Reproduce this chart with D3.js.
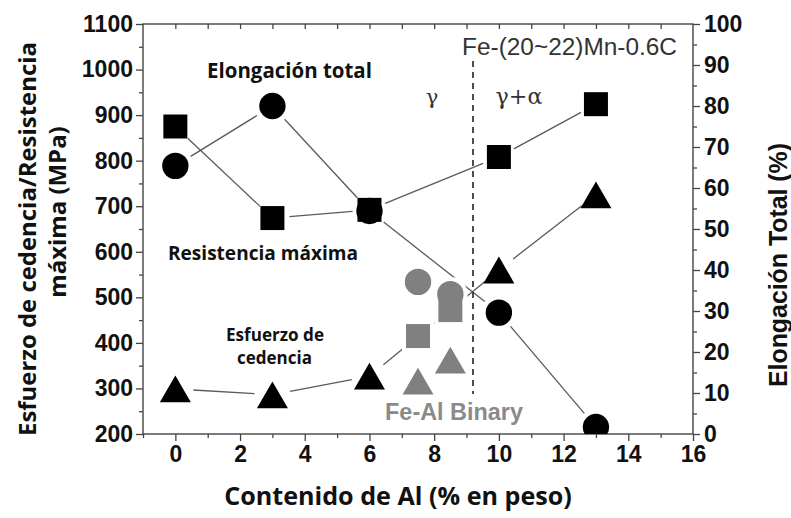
<!DOCTYPE html>
<html>
<head>
<meta charset="utf-8">
<script src="https://cdn.jsdelivr.net/npm/d3@7"></script>
<style>
  html, body { margin: 0; padding: 0; background: #fff; }
  svg { display: block; }
</style>
</head>
<body>
<svg id="chart" width="791" height="518"></svg>
<script>
// Fe-(20~22)Mn-0.6C steels: tensile properties vs. Al content
const alContent = [0, 3, 6, 10, 13];                 // wt.% Al
const tensileStrength = [875, 674, 692, 808, 924];   // MPa (squares)
const yieldStrength = [299, 286, 327, 560, 725];     // MPa (triangles)
const totalElongation = [65.4, 80.0, 54.4, 29.6, 1.7]; // % (circles)

// Fe-Al binary reference points
const binaryAl = [7.5, 8.5];
const binaryTensile = [415, 472];
const binaryYield = [316, 362];
const binaryElongation = [37.1, 34.1];

const xTicks = [0, 2, 4, 6, 8, 10, 12, 14, 16];
const leftTicks = [200, 300, 400, 500, 600, 700, 800, 900, 1000, 1100];
const rightTicks = [0, 10, 20, 30, 40, 50, 60, 70, 80, 90, 100];
const phaseBoundary = 9.2;

const svg = d3.select("#chart");
const L = 143, R = 693, T = 24, B = 434;

const x = d3.scaleLinear().domain([-1, 16]).range([L, R]);
const yL = d3.scaleLinear().domain([200, 1100]).range([B, T]);
const yR = d3.scaleLinear().domain([0, 100]).range([B, T]);

const axisColor = "#444";
const tickFont = "'Liberation Sans', Arial, sans-serif";
const labelFont = "'Open Sans', 'Noto Sans', sans-serif";
const greekFont = "'DejaVu Serif', serif";

function fit(sel, width) {
  const w = sel.node().getComputedTextLength();
  const fs = parseFloat(sel.attr("font-size"));
  sel.attr("font-size", fs * width / w);
  return sel;
}

function styleAxis(g) {
  g.selectAll("path.domain").remove();
  g.selectAll(".tick line").attr("stroke", axisColor).attr("stroke-width", 1.3);
  g.selectAll(".tick text")
    .attr("font-family", tickFont).attr("font-weight", "bold")
    .attr("font-size", 23).attr("fill", "#111");
}

// bottom axis: minor then major ticks
svg.append("g").attr("transform", `translate(0,${B})`)
  .call(d3.axisBottom(x).tickValues(d3.range(-1, 16, 2)).tickSize(4).tickFormat(""))
  .call(styleAxis);
svg.append("g").attr("transform", `translate(0,${B})`)
  .call(d3.axisBottom(x).tickValues(xTicks).tickSize(7).tickPadding(5).tickFormat(d3.format("d")))
  .call(styleAxis);

// top axis: inward ticks at every unit
svg.append("g").attr("transform", `translate(0,${T})`)
  .call(d3.axisBottom(x).tickValues(d3.range(0, 16, 1)).tickSize(5).tickFormat(""))
  .call(styleAxis);

// left axis
svg.append("g").attr("transform", `translate(${L},0)`)
  .call(d3.axisLeft(yL).tickValues(d3.range(250, 1100, 100)).tickSize(4).tickFormat(""))
  .call(styleAxis);
svg.append("g").attr("transform", `translate(${L},0)`)
  .call(d3.axisLeft(yL).tickValues(leftTicks).tickSize(7).tickPadding(3).tickFormat(d3.format("d")))
  .call(styleAxis);

// right axis
svg.append("g").attr("transform", `translate(${R},0)`)
  .call(d3.axisRight(yR).tickValues(d3.range(5, 100, 10)).tickSize(4).tickFormat(""))
  .call(styleAxis);
svg.append("g").attr("transform", `translate(${R},0)`)
  .call(d3.axisRight(yR).tickValues(rightTicks).tickSize(7).tickPadding(4).tickFormat(d3.format("d")))
  .call(styleAxis);

// frame
svg.append("rect").attr("x", L).attr("y", T).attr("width", R - L).attr("height", B - T)
  .attr("fill", "none").attr("stroke", axisColor).attr("stroke-width", 1.4);

// clip to plot area
svg.append("clipPath").attr("id", "plotClip")
  .append("rect").attr("x", L).attr("y", T).attr("width", R - L).attr("height", B - T);
const plot = svg.append("g").attr("clip-path", "url(#plotClip)");

// connecting lines, trimmed so they stop short of the markers
function gappedLines(pts, gap, color) {
  for (let i = 0; i < pts.length - 1; i++) {
    const [x1, y1] = pts[i], [x2, y2] = pts[i + 1];
    const d = Math.hypot(x2 - x1, y2 - y1);
    if (d <= 2 * gap) continue;
    const ux = (x2 - x1) / d, uy = (y2 - y1) / d;
    plot.append("line")
      .attr("x1", x1 + ux * gap).attr("y1", y1 + uy * gap)
      .attr("x2", x2 - ux * gap).attr("y2", y2 - uy * gap)
      .attr("stroke", color).attr("stroke-width", 1.3);
  }
}

const sqPts = alContent.map((a, i) => [x(a), yL(tensileStrength[i])]);
const triPts = alContent.map((a, i) => [x(a), yL(yieldStrength[i])]);
const cirPts = alContent.map((a, i) => [x(a), yR(totalElongation[i])]);
const gSqPts = binaryAl.map((a, i) => [x(a), yL(binaryTensile[i])]);
const gTriPts = binaryAl.map((a, i) => [x(a), yL(binaryYield[i])]);
const gCirPts = binaryAl.map((a, i) => [x(a), yR(binaryElongation[i])]);

gappedLines(sqPts, 17, "#5a5a5a");
gappedLines(triPts, 18, "#5a5a5a");
gappedLines(cirPts, 18, "#5a5a5a");
gappedLines(gTriPts, 17, "#444");

// phase boundary
plot.append("line")
  .attr("x1", x(phaseBoundary)).attr("x2", x(phaseBoundary))
  .attr("y1", 61).attr("y2", 394)
  .attr("stroke", "#222").attr("stroke-width", 1.6).attr("stroke-dasharray", "6,5");

const sym = {
  square: d3.symbol().type(d3.symbolSquare).size(24 * 24),
  circle: d3.symbol().type(d3.symbolCircle).size(Math.PI * 13.2 * 13.2),
  triangle: d3.symbol().type(d3.symbolTriangle).size(Math.sqrt(3) / 4 * 31 * 31)
};
// triangles are positioned by the centre of their bounding box
const triShift = 31 * Math.sqrt(3) / 2 * (2 / 3 - 1 / 2);

function markers(pts, kind, fill, halo) {
  const g = plot.append("g");
  pts.forEach(([px, py]) => {
    const dy = kind === "triangle" ? triShift : 0;
    g.append("path").attr("d", sym[kind]())
      .attr("transform", `translate(${px},${py + dy})`)
      .attr("fill", fill)
      .attr("stroke", halo ? "#fff" : "none")
      .attr("stroke-width", halo ? 8 : 0)
      .attr("paint-order", "stroke");
  });
}

// Fe-Al binary (grey) – white halos first, then the fills
[[gSqPts, "square"], [gCirPts, "circle"], [gTriPts, "triangle"]].forEach(([p, k]) => markers(p, k, "#fff", true));
markers(gSqPts, "square", "#808080");
markers(gCirPts, "circle", "#808080");
markers(gTriPts, "triangle", "#808080");

markers(sqPts, "square", "#000");
markers(cirPts, "circle", "#000");
markers(triPts, "triangle", "#000");

// annotations
function label(txt, cx, by, size, width, opts = {}) {
  const t = svg.append("text").text(txt)
    .attr("x", cx).attr("y", by).attr("text-anchor", "middle")
    .attr("font-family", opts.family || labelFont)
    .attr("font-weight", opts.weight || "bold")
    .attr("font-size", size).attr("fill", opts.fill || "#111");
  if (width) fit(t, width);
  return t;
}

label("Elongación total", 289.5, 78, 17, 165);
label("Resistencia máxima", 263, 260, 19, 190);
label("Esfuerzo de", 275, 341, 16, 98);
label("cedencia", 274.5, 364, 16, 75);
label("Fe-Al Binary", 454, 420, 20, 138, { family: tickFont, fill: "#8a8a8a" });
label("Fe-(20~22)Mn-0.6C", 569.5, 55, 20, 215, { family: tickFont, weight: "normal", fill: "#333" });
label("γ", 432, 104, 21, null, { family: greekFont, weight: "normal", fill: "#333" });
label("γ+α", 519, 104, 21, 47, { family: greekFont, weight: "normal", fill: "#333" });

// axis titles
label("Contenido de Al (% en peso)", 398, 505, 22, 348);

function vlabel(txt, cx, cy, size, family) {
  return svg.append("text").text(txt)
    .attr("transform", `translate(${cx},${cy}) rotate(-90)`)
    .attr("text-anchor", "middle").attr("dy", "0.35em")
    .attr("font-family", family).attr("font-weight", "bold")
    .attr("font-size", size).attr("fill", "#111");
}
const yTitle1 = fit(vlabel("Esfuerzo de cedencia/Resistencia", 28, 239, 20, labelFont), 394);
vlabel("máxima (MPa)", 58, 212, yTitle1.attr("font-size"), labelFont);
fit(vlabel("Elongación Total (%)", 778, 265, 21, tickFont), 244);
</script>
</body>
</html>
